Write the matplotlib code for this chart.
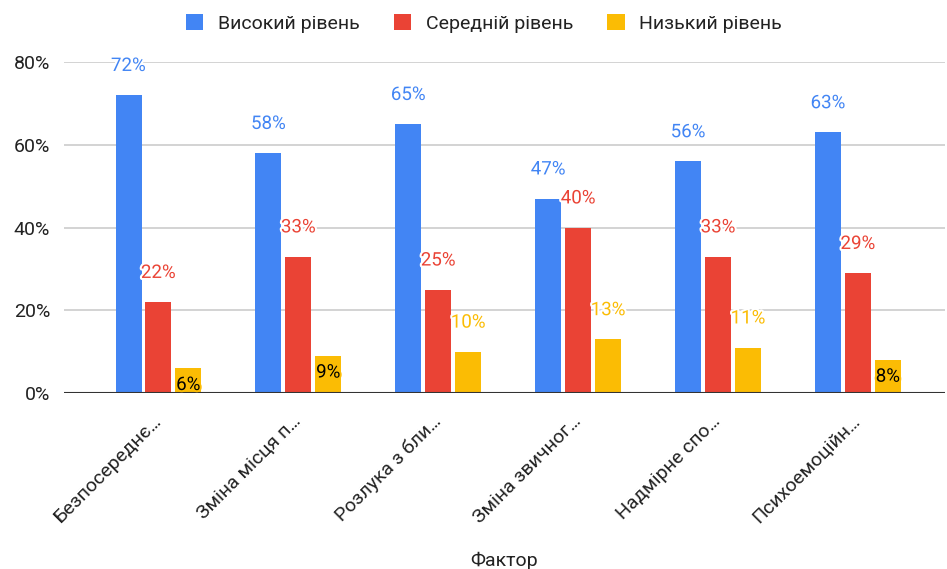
import numpy as np
import matplotlib.pyplot as plt
import matplotlib.patheffects as pe

plt.rcParams['font.family'] = ['Roboto', 'DejaVu Sans']

factors = ["Безпосереднє…", "Зміна місця п…", "Розлука з бли…",
           "Зміна звичног…", "Надмірне спо…", "Психоемоційн…"]
series_names = ["Високий рівень", "Середній рівень", "Низький рівень"]
high = [72, 58, 65, 47, 56, 63]
medium = [22, 33, 25, 40, 33, 29]
low = [6, 9, 10, 13, 11, 8]
y_ticks = [0, 20, 40, 60, 80]

colors = ['#4285F4', '#EA4335', '#FBBC04']
values = [high, medium, low]

fig = plt.figure(figsize=(9.47, 5.69), dpi=100)
ax = fig.add_axes([0.0676, 0.309, 0.93, 0.582])

x = np.arange(len(factors))
step = 0.214
width = 0.186

for i, (name, vals, col) in enumerate(zip(series_names, values, colors)):
    pos = x + (i - 1) * step
    ax.bar(pos, vals, width=width, color=col, label=name, zorder=3)
    for px, v in zip(pos, vals):
        if i == 2 and v < 10:
            # small yellow bars: label sits inside the bar, black text
            ax.annotate(f"{v}%", (px, v), xytext=(0, -12), textcoords='offset points',
                        ha='center', va='center', fontsize=13.5, color='black', zorder=5,
                        path_effects=[pe.withStroke(linewidth=3, foreground=col)])
        else:
            ax.annotate(f"{v}%", (px, v), xytext=(0, 21), textcoords='offset points',
                        ha='center', va='center', fontsize=13.5, color=col, zorder=5,
                        annotation_clip=False,
                        path_effects=[pe.withStroke(linewidth=3, foreground='white')])

ax.set_xlim(-0.675, 5.62)
ax.set_ylim(0, 80)
ax.set_yticks(y_ticks)
ax.set_yticklabels([f"{t}%" for t in y_ticks], fontsize=14, color='#222222')
ax.yaxis.grid(True, color='#cccccc', linewidth=1.2, zorder=0)
ax.axhline(0, color='#333333', linewidth=1.5, zorder=4)
ax.tick_params(axis='both', length=0, pad=10)

ax.set_xticks(x)
ax.set_xticklabels(factors, rotation=45, ha='right', va='center',
                   rotation_mode='anchor', fontsize=14, color='#222222')
ax.tick_params(axis='x', pad=18)

ax.set_xlabel("Фактор", fontsize=14, color='#222222', labelpad=18)

for s in ax.spines.values():
    s.set_visible(False)

fig.legend(loc='upper center', bbox_to_anchor=(0.511, 1.006), ncol=3, frameon=False,
           fontsize=14, handlelength=0.9, handleheight=0.9, handletextpad=0.75,
           columnspacing=1.75, labelcolor='#222222')

fig.savefig('out.png', dpi=100)
